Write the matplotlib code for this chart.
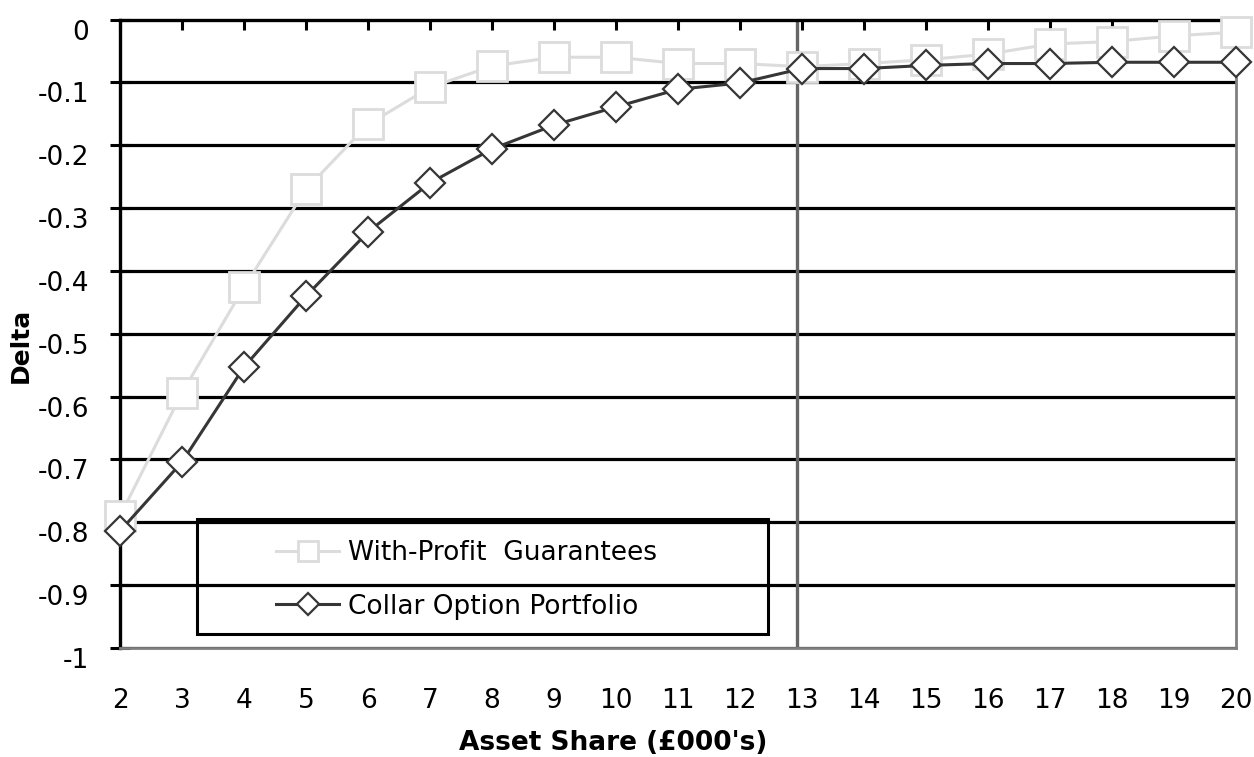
import matplotlib
matplotlib.use("Agg")
import matplotlib.pyplot as plt
from matplotlib.patches import Rectangle

plt.rcParams["font.family"] = ["DejaVu Sans"]

# asset share (£000's)
asset_share = list(range(2, 21))

with_profit = [-0.79, -0.594, -0.426, -0.27, -0.167, -0.108, -0.074, -0.060, -0.060,
               -0.070, -0.070, -0.075, -0.070, -0.064, -0.055, -0.039, -0.035,
               -0.026, -0.020]
collar = [-0.814, -0.704, -0.553, -0.44, -0.338, -0.260, -0.206, -0.168, -0.139,
          -0.111, -0.101, -0.078, -0.078, -0.073, -0.070, -0.070, -0.068,
          -0.068, -0.068]

y_ticks = [0, -0.1, -0.2, -0.3, -0.4, -0.5, -0.6, -0.7, -0.8, -0.9, -1]
y_labels = ["0", "-0.1", "-0.2", "-0.3", "-0.4", "-0.5", "-0.6", "-0.7", "-0.8", "-0.9", "-1"]
marker_line = 12.92  # vertical reference line

fig = plt.figure(figsize=(12.54, 7.57), dpi=100)
ax = fig.add_axes([0.0957, 0.1440, 0.8900, 0.8302])

for y in y_ticks[1:]:
    ax.axhline(y, color="black", lw=2.3, zorder=1)

ax.axvline(marker_line, color="#666666", lw=2.4, zorder=2)

ax.plot(asset_share, with_profit, color="#dcdcdc", lw=2.2, marker="s", ms=21,
        mfc="white", mec="#dcdcdc", mew=2, zorder=3, label="With-Profit  Guarantees",
        clip_on=False)
ax.plot(asset_share, collar, color="#363636", lw=2.2, marker="D", ms=15.5,
        mfc="white", mec="#363636", mew=1.6, zorder=4, label="Collar Option Portfolio",
        clip_on=False)

ax.set_xlim(2, 20)
ax.set_ylim(-1, 0)
ax.set_xticks(asset_share)
ax.set_yticks(y_ticks)
ax.set_yticklabels(y_labels, va="top")

ax.spines["left"].set_linewidth(2.4)
ax.spines["top"].set_linewidth(2.4)
ax.spines["right"].set_color("#808080")
ax.spines["right"].set_linewidth(2)
ax.spines["bottom"].set_color("#808080")
ax.spines["bottom"].set_linewidth(2)

ax.tick_params(axis="x", top=True, bottom=False, labeltop=False, labelbottom=True,
               direction="in", length=7, width=2.2, pad=29, labelsize=19)
ax.tick_params(axis="y", direction="inout", length=14.5, width=2.2, labelsize=19, pad=15)

fig.text(613 / 1254, 1 - 743 / 757, "Asset Share (£000's)", fontsize=19,
         fontweight="bold", ha="center", va="center")
fig.text(21 / 1254, 1 - 345 / 757, "Delta", fontsize=18, fontweight="bold",
         rotation=90, ha="center", va="center")

# legend box drawn separately so the entries can sit inside it like the original
ax.add_patch(Rectangle((0.069, 0.0223), 0.512, 0.1827, transform=ax.transAxes,
                       fill=False, edgecolor="black", lw=2.2, zorder=5))
leg = ax.legend(loc="upper left", bbox_to_anchor=(0.1398, 0.172), frameon=False,
                fontsize=19, handlelength=2.4, handletextpad=0.34, labelspacing=1.05,
                borderpad=0, borderaxespad=0, markerscale=0.7)

fig.savefig("out.png", dpi=100)
